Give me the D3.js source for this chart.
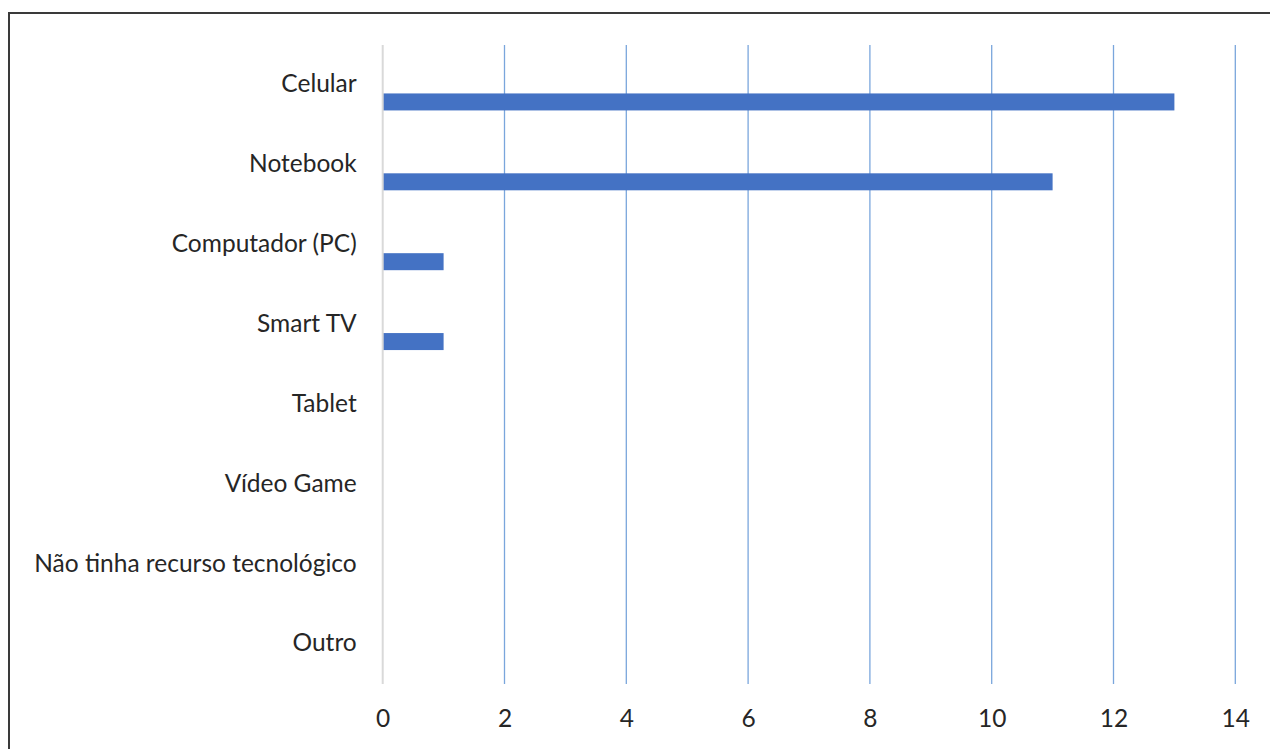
<!DOCTYPE html>
<html>
<head>
<meta charset="utf-8">
<script src="https://cdn.jsdelivr.net/npm/d3@7"></script>
<style>
  html, body { margin: 0; padding: 0; background: #fff; }
  svg { display: block; }
</style>
</head>
<body>
<svg id="chart" width="1270" height="749"></svg>
<script>
// Recursos tecnológicos utilizados
const categories = [
  "Celular",
  "Notebook",
  "Computador (PC)",
  "Smart TV",
  "Tablet",
  "Vídeo Game",
  "Não tinha recurso tecnológico",
  "Outro"
];
const values = [13, 11, 1, 1, 0, 0, 0, 0];
const xTicks = [0, 2, 4, 6, 8, 10, 12, 14];

const svg = d3.select("#chart");
const font = "Lato, 'Open Sans', sans-serif";

// outer frame
svg.append("rect")
  .attr("x", 9).attr("y", 13)
  .attr("width", 1280).attr("height", 760)
  .attr("fill", "none")
  .attr("stroke", "#3a3a3a")
  .attr("stroke-width", 2);

const plot = { left: 382.7, right: 1235.3, top: 45, bottom: 684 };

const x = d3.scaleLinear().domain([0, 14]).range([plot.left, plot.right]);

const gap = 0.3615;
const y = d3.scaleBand()
  .domain(categories)
  .range([plot.top, plot.bottom])
  .paddingInner(gap)
  .paddingOuter(gap / 2);

// three slots per category; the series sits in the lowest slot
const slot = d3.scaleBand().domain([0, 1, 2]).range([0, y.bandwidth()]);

// vertical gridlines
svg.append("g")
  .selectAll("line")
  .data(xTicks.filter(t => t > 0))
  .join("line")
  .attr("x1", d => x(d)).attr("x2", d => x(d))
  .attr("y1", plot.top).attr("y2", plot.bottom)
  .attr("stroke", "#7aa6dc")
  .attr("stroke-width", 1.3);

// bars
svg.append("g")
  .selectAll("rect")
  .data(categories.map((c, i) => ({ c, v: values[i] })))
  .join("rect")
  .attr("x", x(0))
  .attr("y", d => y(d.c) + slot(2))
  .attr("width", d => x(d.v) - x(0))
  .attr("height", slot.bandwidth())
  .attr("fill", "#4472c4");

// category axis line
svg.append("line")
  .attr("x1", x(0)).attr("x2", x(0))
  .attr("y1", plot.top).attr("y2", plot.bottom)
  .attr("stroke", "#d9d9d9")
  .attr("stroke-width", 2);

// category labels
const yAxis = d3.axisLeft(y).tickSize(0).tickPadding(26);
const gy = svg.append("g")
  .attr("transform", `translate(${x(0)},0)`)
  .call(yAxis);
gy.select(".domain").remove();
gy.selectAll("text")
  .attr("font-family", font)
  .attr("font-size", 24.5)
  .attr("fill", "#262626")
  .attr("dy", "0.3em");

// value axis labels
const xAxis = d3.axisBottom(x).tickValues(xTicks).tickSize(0).tickPadding(26);
const gx = svg.append("g")
  .attr("transform", `translate(0,${plot.bottom})`)
  .call(xAxis);
gx.select(".domain").remove();
gx.selectAll("text")
  .attr("font-family", font)
  .attr("font-size", 24.5)
  .attr("fill", "#262626");
</script>
</body>
</html>
